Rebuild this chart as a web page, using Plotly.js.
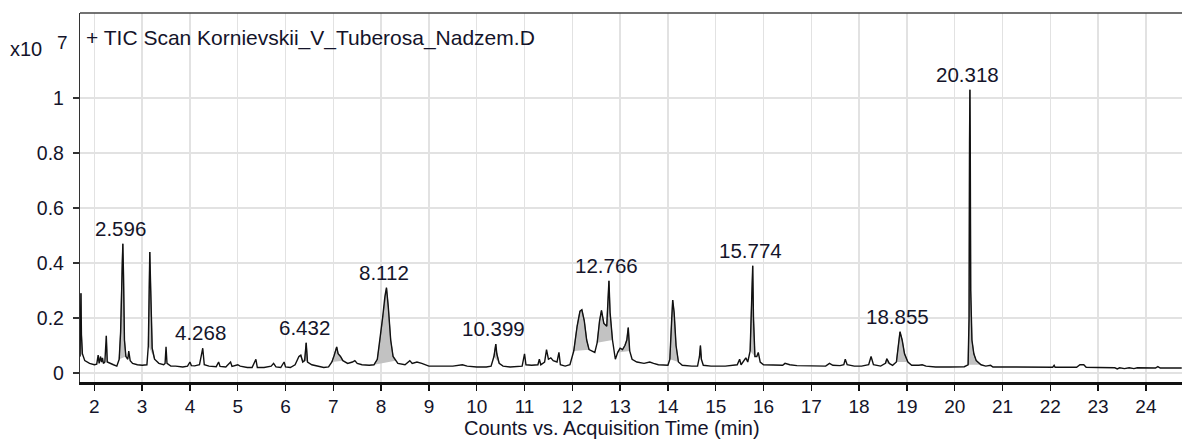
<!DOCTYPE html>
<html>
<head>
<meta charset="utf-8">
<script src="https://cdn.plot.ly/plotly-3.0.1.min.js"></script>
<style>html,body{margin:0;padding:0;background:#fff;}#chart{width:1182px;height:439px;}</style>
</head>
<body>
<div id="chart"></div>
<script>
// Acquisition time (min)
const times = [
1.70,1.71,1.72,1.73,1.75,1.80,1.90,2.00,2.05,2.08,2.10,2.13,2.15,2.17,2.19,2.22,2.25,2.27,2.32,2.40,
2.47,2.52,2.55,2.58,2.596,2.61,2.63,2.66,2.70,2.72,2.75,2.80,2.90,3.00,3.10,3.13,3.16,3.18,3.21,3.26,
3.35,3.45,3.48,3.50,3.52,3.60,3.70,3.85,3.95,4.00,4.03,4.10,4.20,4.268,4.30,4.40,4.55,4.60,4.63,4.75,
4.85,4.88,5.00,5.05,5.20,5.30,5.38,5.41,5.55,5.70,5.75,5.80,5.90,5.97,6.00,6.10,6.20,6.28,6.32,6.36,
6.40,6.432,6.46,6.55,6.65,6.80,6.90,6.97,7.02,7.07,7.10,7.15,7.20,7.30,7.40,7.45,7.50,7.60,7.75,7.85,
7.92,7.97,8.03,8.08,8.112,8.15,8.20,8.25,8.30,8.35,8.50,8.60,8.65,8.75,8.85,9.00,9.20,9.50,9.70,9.80,
10.00,10.20,10.30,10.36,10.399,10.42,10.47,10.55,10.70,10.95,11.00,11.03,11.15,11.28,11.31,11.34,11.42,11.46,11.50,11.55,
11.60,11.68,11.72,11.75,11.85,11.95,12.03,12.10,12.16,12.20,12.25,12.30,12.35,12.42,12.47,12.52,12.57,12.61,12.66,12.72,
12.745,12.766,12.79,12.84,12.90,12.95,13.00,13.05,13.10,13.14,13.17,13.20,13.25,13.35,13.50,13.62,13.70,13.80,14.00,14.04,
14.08,14.10,14.13,14.17,14.22,14.30,14.50,14.62,14.66,14.68,14.70,14.74,14.90,15.20,15.45,15.50,15.53,15.60,15.63,15.67,
15.72,15.774,15.79,15.82,15.86,15.89,15.93,16.00,16.20,16.40,16.45,16.55,16.70,17.00,17.30,17.38,17.45,17.60,17.68,17.71,
17.75,17.90,18.05,18.20,18.25,18.30,18.45,18.55,18.58,18.63,18.70,18.78,18.82,18.855,18.90,18.95,19.02,19.10,19.25,19.32,
19.40,19.60,19.90,20.20,20.28,20.30,20.31,20.318,20.325,20.335,20.36,20.40,20.45,20.55,20.65,20.75,20.80,21.20,21.60,22.05,
22.08,22.10,22.55,22.62,22.70,22.75,23.00,23.35,23.40,23.45,23.55,23.65,23.75,23.82,24.20,24.25,24.30,24.75
];
// Counts (x10^7)
const counts = [
0.06,0.20,0.29,0.14,0.07,0.045,0.035,0.030,0.032,0.065,0.035,0.06,0.04,0.055,0.035,0.04,0.135,0.04,0.035,0.03,
0.025,0.05,0.15,0.40,0.47,0.36,0.12,0.06,0.05,0.08,0.045,0.035,0.03,0.028,0.03,0.10,0.44,0.30,0.09,0.05,
0.035,0.03,0.035,0.095,0.035,0.025,0.025,0.022,0.025,0.04,0.027,0.026,0.03,0.09,0.03,0.025,0.023,0.04,0.024,0.022,
0.04,0.024,0.03,0.025,0.02,0.02,0.05,0.02,0.02,0.025,0.035,0.022,0.02,0.04,0.022,0.02,0.03,0.06,0.065,0.04,
0.045,0.11,0.04,0.03,0.025,0.02,0.022,0.04,0.065,0.095,0.07,0.06,0.045,0.035,0.04,0.045,0.035,0.03,0.028,0.03,
0.05,0.11,0.20,0.28,0.31,0.24,0.12,0.06,0.045,0.035,0.03,0.045,0.035,0.04,0.035,0.025,0.025,0.025,0.03,0.025,
0.022,0.022,0.025,0.06,0.105,0.07,0.035,0.025,0.022,0.025,0.07,0.03,0.028,0.03,0.05,0.03,0.04,0.085,0.05,0.055,
0.045,0.04,0.075,0.03,0.025,0.03,0.08,0.17,0.225,0.23,0.19,0.12,0.085,0.08,0.075,0.11,0.19,0.228,0.18,0.17,
0.25,0.335,0.22,0.12,0.05,0.075,0.09,0.085,0.10,0.12,0.165,0.08,0.05,0.04,0.035,0.04,0.035,0.03,0.028,0.05,
0.20,0.265,0.22,0.10,0.04,0.028,0.025,0.025,0.06,0.10,0.05,0.028,0.025,0.025,0.03,0.05,0.03,0.045,0.055,0.04,
0.08,0.39,0.20,0.06,0.06,0.075,0.04,0.03,0.028,0.028,0.035,0.03,0.027,0.026,0.025,0.035,0.028,0.027,0.03,0.05,
0.03,0.025,0.025,0.03,0.06,0.03,0.025,0.035,0.052,0.035,0.028,0.04,0.11,0.15,0.12,0.07,0.04,0.028,0.028,0.03,
0.025,0.022,0.022,0.023,0.03,0.20,0.84,1.03,0.84,0.30,0.12,0.07,0.045,0.03,0.025,0.028,0.022,0.022,0.022,0.021,
0.028,0.021,0.021,0.03,0.03,0.021,0.02,0.019,0.015,0.019,0.016,0.019,0.016,0.019,0.018,0.023,0.018,0.018
];
// Integrated (shaded) peak windows, start / end time (min)
const peakStarts = [1.70, 2.24, 2.52, 3.12, 6.26, 6.97, 7.85, 10.33, 12.00, 12.50, 12.92, 14.02, 14.64, 15.70, 18.55, 18.78, 20.28];
const peakEnds   = [1.76, 2.27, 2.66, 3.26, 6.46, 7.20, 8.30, 10.50, 12.40, 12.86, 13.22, 14.22, 14.72, 15.84, 18.63, 19.02, 20.60];
// Labelled peak apex times
const labelTimes = ['2.596', '4.268', '6.432', '8.112', '10.399', '12.766', '15.774', '18.855', '20.318'];
const xTicks = [2,3,4,5,6,7,8,9,10,11,12,13,14,15,16,17,18,19,20,21,22,23,24];
const yTicks = [0, 0.2, 0.4, 0.6, 0.8, 1];
const yTickLabels = ['0', '0.2', '0.4', '0.6', '0.8', '1'];
const chartTitle = '+ TIC Scan Kornievskii_V_Tuberosa_Nadzem.D';
const xTitle = 'Counts vs. Acquisition Time (min)';

const FONT = 'Arial, "Liberation Sans", sans-serif';
const TXT = '#14142a';

const traces = [];
for (let i = 0; i < peakStarts.length; i++) {
  const px = [], py = [];
  for (let k = 0; k < times.length; k++) {
    if (times[k] >= peakStarts[i] - 1e-9 && times[k] <= peakEnds[i] + 1e-9) { px.push(times[k]); py.push(counts[k]); }
  }
  traces.push({x: px, y: py, type: 'scatter', mode: 'lines', fill: 'toself',
    fillcolor: '#c2c2c2', line: {color: '#7a7a7a', width: 0.9}, hoverinfo: 'skip', showlegend: false});
}
traces.push({x: times, y: counts, type: 'scatter', mode: 'lines',
  line: {color: '#111111', width: 1.4}, showlegend: false});

const annotations = labelTimes.map(function (lt) {
  const t = parseFloat(lt);
  let best = 0, bd = 1e9;
  for (let k = 0; k < times.length; k++) { const d = Math.abs(times[k] - t); if (d < bd) { bd = d; best = k; } }
  return {x: t, y: counts[best], xref: 'x', yref: 'y', text: lt, showarrow: false,
    xanchor: 'center', yanchor: 'bottom', yshift: 2, xshift: -2, font: {family: FONT, size: 20.5, color: TXT}};
});
annotations.push({xref: 'paper', yref: 'paper', x: 0.004, y: 0.9336, xanchor: 'left', yanchor: 'middle',
  text: chartTitle, showarrow: false, font: {family: FONT, size: 21, color: TXT}});
annotations.push({xref: 'paper', yref: 'paper', x: -0.049, y: 0.9024, xanchor: 'center', yanchor: 'middle',
  text: 'x10', showarrow: false, font: {family: FONT, size: 20, color: TXT}});
annotations.push({xref: 'paper', yref: 'paper', x: -0.0163, y: 0.9187, xanchor: 'center', yanchor: 'middle',
  text: '7', showarrow: false, font: {family: FONT, size: 19, color: TXT}});
annotations.push({xref: 'paper', yref: 'paper', x: 0.4827, y: -0.1585, xanchor: 'center', yanchor: 'bottom',
  text: xTitle, showarrow: false, borderpad: 0, font: {family: FONT, size: 20, color: TXT}});

const layout = {
  width: 1182, height: 439,
  margin: {l: 80, r: 0, t: 13, b: 57, pad: 0},
  paper_bgcolor: '#ffffff', plot_bgcolor: '#ffffff',
  showlegend: false,
  font: {family: FONT, size: 19, color: TXT},
  xaxis: {range: [1.70, 24.755], tickmode: 'array', tickvals: xTicks, ticktext: xTicks.map(String),
    showgrid: true, gridcolor: '#e2e2e2', gridwidth: 1.3, zeroline: false,
    showline: true, linecolor: '#111111', linewidth: 2.5,
    ticks: 'outside', ticklen: 6, tickwidth: 1.5, tickcolor: '#111111',
    tickfont: {family: FONT, size: 19, color: TXT}, ticklabelstandoff: 0},
  yaxis: {range: [-0.0327, 1.309], tickmode: 'array', tickvals: yTicks, ticktext: yTickLabels,
    showgrid: true, gridcolor: '#e2e2e2', gridwidth: 1.3, zeroline: false,
    showline: true, linecolor: '#333333', linewidth: 1.2,
    ticks: 'outside', ticklen: 6, tickwidth: 1.3, tickcolor: '#333333',
    tickfont: {family: FONT, size: 19.5, color: TXT}, ticklabelstandoff: 5},
  shapes: [
    {type: 'rect', xref: 'paper', yref: 'paper', x0: 0.001, x1: 1, y0: 0.8455, y1: 1,
      fillcolor: '#ffffff', line: {width: 0}, layer: 'between'},
    {type: 'line', xref: 'paper', yref: 'paper', x0: 0, x1: 1, y0: 1, y1: 1,
      line: {color: '#444444', width: 1.6}}
  ],
  annotations: annotations
};

Plotly.newPlot('chart', traces, layout, {staticPlot: true, displayModeBar: false});
</script>
</body>
</html>
